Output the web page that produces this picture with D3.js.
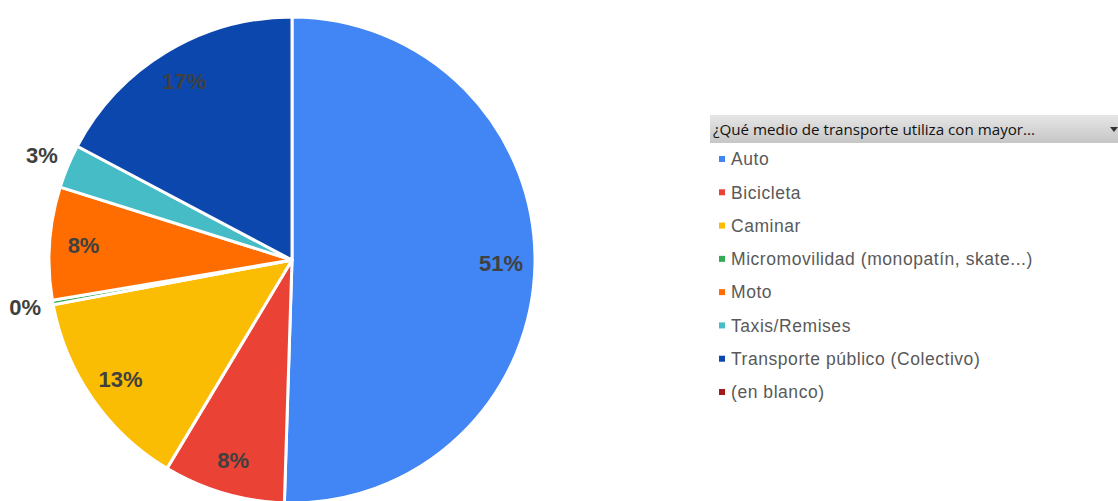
<!DOCTYPE html>
<html>
<head>
<meta charset="utf-8">
<script src="https://cdn.jsdelivr.net/npm/d3@7"></script>
<style>
  html, body { margin: 0; padding: 0; background: #fff; }
  svg { display: block; }
</style>
</head>
<body>
<div id="chart"></div>
<script>
// data
var categories = ["Auto", "Bicicleta", "Caminar", "Micromovilidad (monopatín, skate...)",
                  "Moto", "Taxis/Remises", "Transporte público (Colectivo)", "(en blanco)"];
var shares     = [50.5, 8.1, 13.45, 0.3, 7.5, 2.9, 17.25, 0];
var labels     = ["51%", "8%", "13%", "0%", "8%", "3%", "17%", ""];
var colors     = ["#4285f4", "#ea4335", "#fbbc04", "#34a853", "#ff6d01", "#46bdc6", "#0b47ad", "#a01b1b"];
var legendTitle = "¿Qué medio de transporte utiliza con mayor...";

var W = 1118, H = 501;
var cx = 292, cy = 260, R = 243;

var svg = d3.select("#chart").append("svg")
    .attr("width", W).attr("height", H);

var data = categories.map(function (c, i) {
  return { name: c, value: shares[i], label: labels[i], color: colors[i] };
});

var pie = d3.pie().sort(null).value(function (d) { return d.value; });
var arc = d3.arc().innerRadius(0).outerRadius(R);
var arcs = pie(data);

var g = svg.append("g").attr("transform", "translate(" + cx + "," + cy + ")");

g.selectAll("path.slice")
  .data(arcs.filter(function (d) { return d.data.value > 0; }))
  .enter().append("path")
  .attr("class", "slice")
  .attr("d", arc)
  .attr("fill", function (d) { return d.data.color; })
  .attr("stroke", "#fff")
  .attr("stroke-width", 3)
  .attr("stroke-linejoin", "round");

// labels: small slices go outside, the rest inside
var inner = d3.arc().innerRadius(R * 0.86).outerRadius(R * 0.86);
var outer = d3.arc().innerRadius(R + 28).outerRadius(R + 28);

g.selectAll("text.lbl")
  .data(arcs.filter(function (d) { return d.data.label !== ""; }))
  .enter().append("text")
  .attr("class", "lbl")
  .attr("transform", function (d) {
    var p = (d.data.value < 5 ? outer : inner).centroid(d);
    return "translate(" + p[0] + "," + p[1] + ")";
  })
  .attr("text-anchor", "middle")
  .attr("dy", "0.36em")
  .style("font-family", "'Liberation Sans', Arial, sans-serif")
  .style("font-weight", "bold")
  .style("font-size", "22px")
  .style("fill", "#404040")
  .text(function (d) { return d.data.label; });

// legend (pivot-style header + items)
var lg = svg.append("g").attr("transform", "translate(710,115)");

var grad = svg.append("defs").append("linearGradient")
  .attr("id", "hdr").attr("x1", 0).attr("y1", 0).attr("x2", 0).attr("y2", 1);
grad.append("stop").attr("offset", "0%").attr("stop-color", "#e6e6e6");
grad.append("stop").attr("offset", "100%").attr("stop-color", "#c6c6c6");

lg.append("rect")
  .attr("x", 0).attr("y", 0).attr("width", 408).attr("height", 28)
  .attr("fill", "url(#hdr)");

lg.append("text")
  .attr("x", 3).attr("y", 20)
  .style("font-family", "'Open Sans', 'Noto Sans', sans-serif")
  .style("font-size", "15px")
  .style("fill", "#111")
  .attr("textLength", 322)
  .attr("lengthAdjust", "spacingAndGlyphs")
  .text(legendTitle);

lg.append("path")
  .attr("d", "M400,12 L408,12 L404,17 Z")
  .attr("fill", "#333");

var y = d3.scalePoint().domain(categories).range([44, 277]);

var items = lg.selectAll("g.item")
  .data(data)
  .enter().append("g")
  .attr("class", "item")
  .attr("transform", function (d) { return "translate(0," + y(d.name) + ")"; });

items.append("rect")
  .attr("x", 9).attr("y", -3).attr("width", 6).attr("height", 6)
  .attr("fill", function (d) { return d.color; });

items.append("text")
  .attr("x", 21).attr("y", 0).attr("dy", "0.36em")
  .style("font-family", "'Liberation Sans', Arial, sans-serif")
  .style("font-size", "17.5px")
  .style("letter-spacing", "0.55px")
  .style("fill", "#595959")
  .text(function (d) { return d.name; });
</script>
</body>
</html>
